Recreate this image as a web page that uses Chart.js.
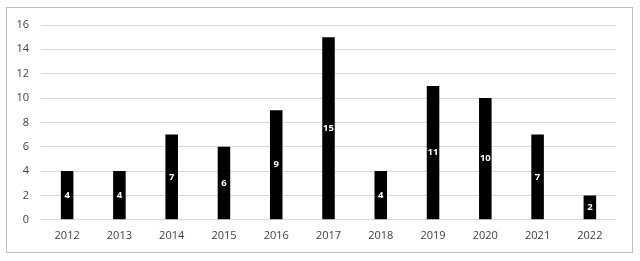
<!DOCTYPE html>
<html>
<head>
<meta charset="utf-8">
<script src="https://cdn.jsdelivr.net/npm/chart.js@4/dist/chart.umd.min.js"></script>
<style>
html,body{margin:0;padding:0;background:#fff;}
#wrap{position:absolute;left:0;top:0;width:640px;height:261px;}
</style>
</head>
<body>
<div id="wrap"><canvas id="c" width="640" height="261"></canvas></div>
<script>
const categories = ["2012","2013","2014","2015","2016","2017","2018","2019","2020","2021","2022"];
const counts = [4,4,7,6,9,15,4,11,10,7,2];
const yTicks = [0,2,4,6,8,10,12,14,16];

const frame = {
  id: 'frame',
  afterDraw(chart) {
    const ctx = chart.ctx;
    ctx.save();
    ctx.strokeStyle = '#bfbfbf';
    ctx.lineWidth = 1;
    ctx.strokeRect(6.5, 7.5, 626, 245);
    ctx.restore();
  }
};
const labels = {
  id: 'labels',
  afterDatasetsDraw(chart) {
    const ctx = chart.ctx;
    const meta = chart.getDatasetMeta(0);
    ctx.save();
    ctx.fillStyle = '#ffffff';
    ctx.font = 'bold 9.5px "Open Sans"';
    ctx.textAlign = 'center';
    ctx.textBaseline = 'middle';
    meta.data.forEach((bar, i) => {
      const y = (bar.y + bar.base) / 2;
      ctx.fillText(String(counts[i]), bar.x, y);
    });
    ctx.restore();
  }
};

new Chart(document.getElementById('c'), {
  type: 'bar',
  data: {
    labels: categories,
    datasets: [{
      data: counts,
      backgroundColor: '#000000',
      borderWidth: 0,
      barPercentage: 0.24,
      categoryPercentage: 1
    }]
  },
  options: {
    responsive: false,
    animation: false,
    devicePixelRatio: 1,
    layout: { padding: { left: 0, right: 24, top: 25, bottom: 10 } },
    plugins: { legend: { display: false }, tooltip: { enabled: false } },
    scales: {
      x: {
        grid: { display: false, drawTicks: false },
        border: { display: false },
        ticks: { color: '#404040', font: { family: '"Open Sans"', size: 11 }, padding: 9 }
      },
      y: {
        min: 0, max: 16,
        afterFit(s) { s.width = 41; },
        afterBuildTicks(s) { s.ticks = yTicks.map(v => ({ value: v })); },
        grid: { color: '#d9d9d9', lineWidth: 1, drawTicks: false },
        border: { display: false },
        ticks: { color: '#404040', font: { family: '"Open Sans"', size: 11 }, padding: 12 }
      }
    }
  },
  plugins: [frame, labels]
});
</script>
</body>
</html>
